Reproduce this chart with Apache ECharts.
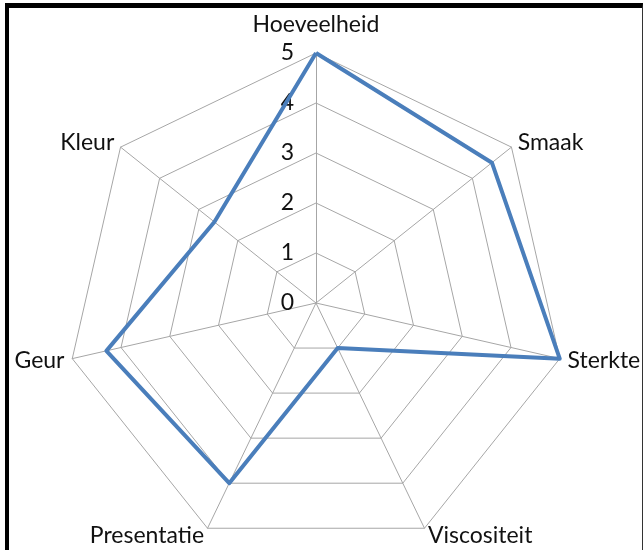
<!DOCTYPE html>
<html>
<head>
<meta charset="utf-8">
<script src="https://cdn.jsdelivr.net/npm/echarts@6/dist/echarts.min.js"></script>
<style>
  html, body { margin: 0; padding: 0; background: #fff; }
  #chart { position: absolute; left: 0; top: 0; width: 644px; height: 550px; }
  #frame { position: absolute; left: 5px; top: 3px; width: 638px; height: 560px; box-sizing: border-box;
           border-top: 5px solid #000; border-left: 4px solid #000; border-right: 1px solid #333; pointer-events: none; }
</style>
</head>
<body>
<div id="chart"></div>
<div id="frame"></div>
<script>
// Categories in clockwise order starting from the top
const categories = ['Hoeveelheid', 'Smaak', 'Sterkte', 'Viscositeit', 'Presentatie', 'Geur', 'Kleur'];
const values = [5, 4.5, 5, 1, 4, 4.3, 2.6];
const tickLabels = ['0', '1', '2', '3', '4', '5'];
const maxValue = 5;

// ECharts radar places indicators counter-clockwise; reorder to get clockwise layout
const order = [0].concat(categories.map((_, i) => i).slice(1).reverse());
const indicator = order.map(i => ({ name: categories[i], min: 0, max: maxValue }));
const seriesValues = order.map(i => values[i]);

const FONT = 'Lato';
const chart = echarts.init(document.getElementById('chart'));
chart.setOption({
  animation: false,
  radar: {
    center: [316, 303],
    radius: 250,
    startAngle: 90,
    splitNumber: 5,
    shape: 'polygon',
    indicator: indicator,
    axisName: {
      color: '#111', fontFamily: FONT, fontSize: 23,
      formatter: name => name === categories[0] ? '{top|' + name + '}' : name,
      rich: { top: { color: '#111', fontFamily: FONT, fontSize: 23, padding: [0, 0, 9, 0] } }
    },
    nameGap: 8,
    splitLine: { lineStyle: { color: '#a6a6a6', width: 1 } },
    splitArea: { show: false },
    axisLine: { lineStyle: { color: '#a6a6a6', width: 1 } },
    axisTick: { show: false },
    axisLabel: { show: false }
  },
  polar: { center: [316, 303], radius: 250 },
  angleAxis: { show: false, startAngle: 90, min: 0, max: 360 },
  radiusAxis: {
    min: 0, max: maxValue, interval: 1,
    axisLine: { show: false }, axisTick: { show: false }, splitLine: { show: false },
    axisLabel: { margin: 22, color: '#111', fontFamily: FONT, fontSize: 23,
                 formatter: v => tickLabels[Math.round(v)] }
  },
  series: [{
    type: 'radar',
    symbol: 'none',
    lineStyle: { color: '#4a7ebb', width: 4 },
    data: [{ value: seriesValues, name: 'Score' }]
  }]
});
</script>
</body>
</html>
